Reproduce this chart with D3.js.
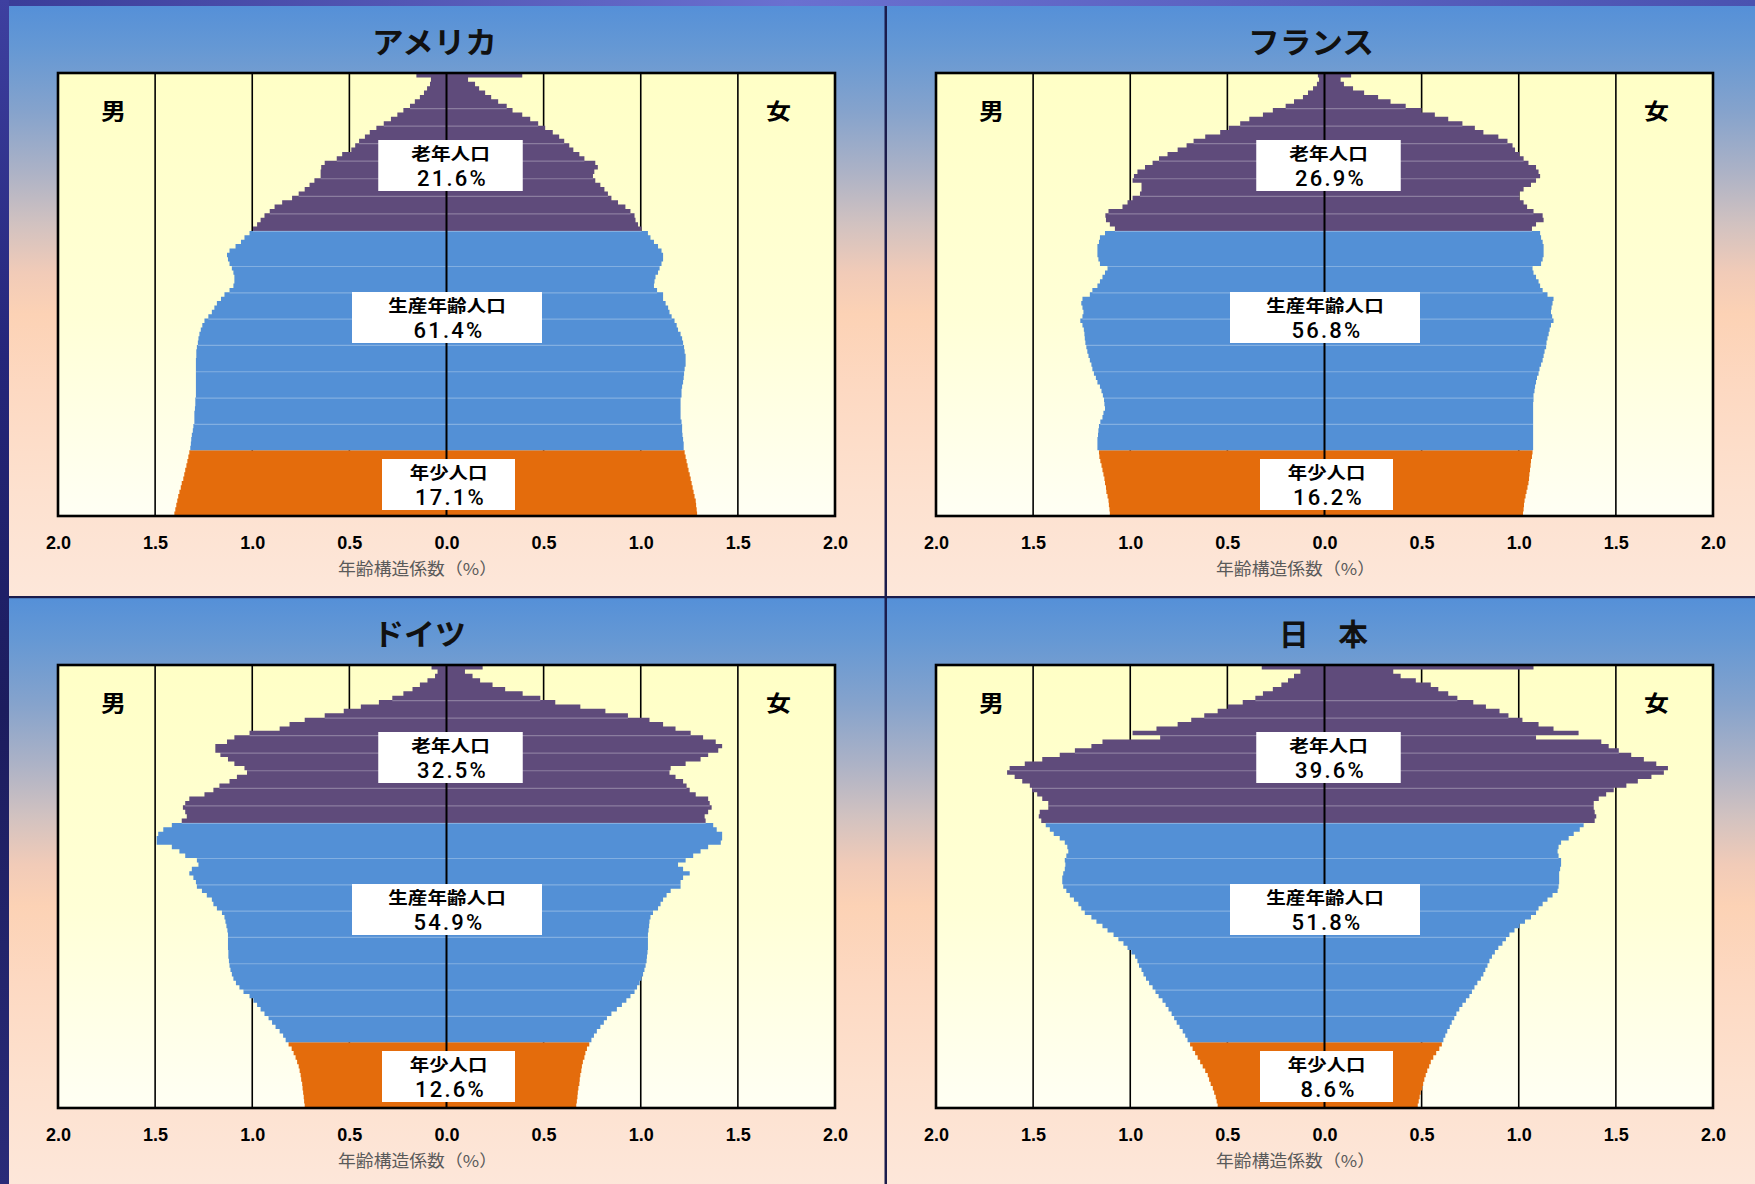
<!DOCTYPE html>
<html>
<head>
<meta charset="utf-8">
<script src="https://cdn.jsdelivr.net/npm/d3@7"></script>
<style>
  html, body { margin: 0; padding: 0; background: #23256e; }
  svg { display: block; }
</style>
</head>
<body>
<svg id="chart" width="1755" height="1184"></svg>
<script>
// ---------------------------------------------------------------
// Data: age-structure coefficients (%) by single year of age, 0 .. 100+
// ---------------------------------------------------------------
const ages = d3.range(0, 101);

const countryNames = ["アメリカ", "フランス", "ドイツ", "日　本"];
const groupNames = ["老年人口", "生産年齢人口", "年少人口"];

const usaMale = [
  1.401,1.396,1.391,1.386,1.381,1.375,1.368,1.363,1.355,1.350,1.345,1.339,1.334,1.329,1.324,
  1.319,1.316,1.314,1.311,1.306,1.303,1.298,1.298,1.298,1.295,1.293,1.293,1.290,1.290,1.290,
  1.290,1.290,1.290,1.290,1.290,1.290,1.288,1.288,1.285,1.280,1.277,1.272,1.265,1.257,1.246,
  1.226,1.208,1.195,1.182,1.161,
  1.143,1.117,1.097,1.092,1.092,1.097,1.105,1.117,1.125,1.130,1.117,1.086,1.058,1.040,1.014,
  0.996,0.975,0.957,0.937,0.910,0.885,0.846,0.795,0.761,0.730,0.705,0.680,0.648,0.648,0.645,
  0.627,0.565,0.537,0.490,0.470,0.450,0.420,0.395,0.361,0.323,0.286,0.253,0.222,0.188,0.163,
  0.137,0.116,0.100,0.085,0.080,0.155
];
const usaFemale = [
  1.290,1.288,1.285,1.283,1.277,1.272,1.267,1.262,1.257,1.252,1.246,1.241,1.236,1.231,1.226,
  1.221,1.221,1.218,1.215,1.213,1.213,1.210,1.205,1.205,1.205,1.205,1.205,1.210,1.210,1.213,
  1.218,1.221,1.223,1.226,1.231,1.231,1.231,1.226,1.223,1.218,1.213,1.205,1.192,1.185,1.174,
  1.159,1.148,1.141,1.128,1.115,
  1.115,1.084,1.068,1.071,1.076,1.089,1.097,1.107,1.115,1.115,1.107,1.089,1.068,1.050,1.037,
  1.004,0.986,0.973,0.968,0.947,0.921,0.883,0.849,0.831,0.813,0.792,0.766,0.754,0.761,0.779,
  0.766,0.710,0.684,0.653,0.632,0.606,0.580,0.547,0.508,0.472,0.431,0.390,0.340,0.310,0.266,
  0.230,0.199,0.168,0.147,0.111,0.390
];

const franceMale = [
  1.105,1.107,1.110,1.112,1.117,1.123,1.125,1.130,1.133,1.138,1.143,1.148,1.154,1.159,1.161,
  1.169,1.169,1.169,1.166,1.164,1.161,1.154,1.143,1.138,1.130,1.133,1.135,1.141,1.148,1.156,
  1.169,1.177,1.187,1.195,1.200,1.208,1.215,1.221,1.226,1.231,1.234,1.236,1.239,1.246,1.257,
  1.246,1.241,1.246,1.252,1.246,
  1.208,1.195,1.169,1.156,1.143,1.130,1.117,1.156,1.164,1.169,1.169,1.169,1.161,1.156,1.130,
  1.079,1.105,1.125,1.128,1.112,1.040,1.014,0.988,0.950,0.942,0.942,0.988,0.981,0.963,0.924,
  0.885,0.852,0.808,0.756,0.710,0.674,0.614,0.537,0.493,0.434,0.387,0.317,0.266,0.200,0.157,
  0.111,0.085,0.059,0.039,0.028,0.034
];
const franceFemale = [
  1.022,1.025,1.027,1.030,1.035,1.040,1.045,1.050,1.053,1.055,1.058,1.061,1.063,1.068,1.071,
  1.074,1.074,1.074,1.074,1.074,1.074,1.074,1.074,1.074,1.074,1.074,1.076,1.076,1.081,1.084,
  1.089,1.094,1.102,1.107,1.115,1.123,1.128,1.133,1.141,1.143,1.148,1.154,1.159,1.166,1.179,
  1.172,1.166,1.169,1.174,1.179,
  1.148,1.123,1.110,1.102,1.089,1.076,1.071,1.115,1.123,1.128,1.128,1.128,1.123,1.115,1.110,
  1.068,1.089,1.128,1.123,1.076,1.043,1.025,1.004,1.004,1.025,1.063,1.089,1.110,1.102,1.089,
  1.050,1.025,1.004,0.981,0.968,0.942,0.895,0.818,0.774,0.710,0.637,0.568,0.500,0.418,0.340,
  0.276,0.204,0.147,0.100,0.083,0.137
];

const germanyMale = [
  0.730,0.733,0.735,0.738,0.741,0.743,0.748,0.751,0.756,0.761,0.769,0.777,0.787,0.797,0.813,
  0.828,0.841,0.859,0.880,0.898,0.916,0.937,0.957,0.975,0.994,1.014,1.045,1.066,1.084,1.097,
  1.105,1.112,1.117,1.120,1.123,1.123,1.125,1.125,1.125,1.125,1.128,1.133,1.138,1.143,1.156,
  1.182,1.200,1.208,1.234,1.259,
  1.285,1.290,1.303,1.324,1.311,1.277,1.285,1.345,1.375,1.414,1.492,1.492,1.484,1.458,1.414,
  1.363,1.337,1.345,1.357,1.345,1.324,1.246,1.200,1.169,1.117,1.079,1.027,1.040,1.092,1.125,
  1.164,1.190,1.190,1.130,1.092,1.014,0.859,0.808,0.730,0.627,0.529,0.441,0.348,0.279,0.222,
  0.175,0.137,0.098,0.059,0.046,0.077
];
const germanyFemale = [
  0.668,0.671,0.674,0.676,0.679,0.684,0.686,0.689,0.694,0.697,0.702,0.710,0.715,0.723,0.735,
  0.746,0.759,0.774,0.792,0.810,0.826,0.849,0.877,0.903,0.926,0.947,0.968,0.981,0.994,1.004,
  1.012,1.019,1.025,1.030,1.032,1.035,1.037,1.037,1.037,1.037,1.040,1.043,1.045,1.050,1.063,
  1.089,1.102,1.115,1.133,1.154,
  1.205,1.205,1.218,1.252,1.218,1.192,1.231,1.270,1.308,1.347,1.412,1.419,1.419,1.391,1.373,
  1.334,1.329,1.347,1.365,1.355,1.347,1.283,1.252,1.236,1.218,1.179,1.148,1.154,1.231,1.308,
  1.347,1.399,1.419,1.386,1.321,1.257,1.179,1.115,1.045,0.934,0.818,0.689,0.560,0.483,0.392,
  0.302,0.237,0.173,0.134,0.095,0.186
];

const japanMale = [
  0.550,0.555,0.560,0.568,0.575,0.586,0.594,0.601,0.614,0.627,0.640,0.653,0.666,0.679,0.692,
  0.705,0.717,0.730,0.746,0.761,0.774,0.787,0.803,0.818,0.834,0.854,0.870,0.885,0.903,0.919,
  0.932,0.942,0.955,0.963,0.975,0.994,1.014,1.035,1.061,1.086,1.117,1.143,1.174,1.200,1.234,
  1.252,1.267,1.290,1.311,1.329,
  1.345,1.350,1.350,1.345,1.337,1.334,1.337,1.329,1.319,1.324,1.337,1.363,1.394,1.414,1.435,
  1.458,1.471,1.466,1.422,1.422,1.453,1.479,1.505,1.517,1.556,1.595,1.634,1.621,1.543,1.453,
  1.363,1.285,1.200,1.143,0.846,0.988,0.865,0.756,0.686,0.619,0.550,0.498,0.421,0.356,0.317,
  0.266,0.222,0.188,0.157,0.124,0.323
];
const japanFemale = [
  0.480,0.485,0.490,0.495,0.503,0.508,0.514,0.521,0.529,0.539,0.547,0.560,0.575,0.591,0.604,
  0.612,0.622,0.632,0.645,0.655,0.668,0.679,0.694,0.710,0.728,0.746,0.759,0.772,0.787,0.805,
  0.818,0.828,0.839,0.849,0.862,0.877,0.895,0.916,0.934,0.952,0.978,1.004,1.032,1.063,1.089,
  1.102,1.123,1.148,1.174,1.200,
  1.205,1.208,1.208,1.208,1.213,1.218,1.218,1.205,1.200,1.205,1.218,1.257,1.283,1.314,1.334,
  1.391,1.399,1.391,1.386,1.386,1.412,1.450,1.489,1.554,1.613,1.683,1.747,1.768,1.708,1.644,
  1.579,1.515,1.463,1.425,1.089,1.308,1.179,1.102,1.019,0.947,0.901,0.831,0.766,0.684,0.637,
  0.586,0.547,0.470,0.392,0.354,1.076
];

// Shares (%) of 老年 / 生産年齢 / 年少 per country
const usaShares = [21.6, 61.4, 17.1];
const franceShares = [26.9, 56.8, 16.2];
const germanyShares = [32.5, 54.9, 12.6];
const japanShares = [39.6, 51.8, 8.6];

// Axis ticks and grid
const tickValues = [-2, -1.5, -1, -0.5, 0, 0.5, 1, 1.5, 2];
const gridValues = [-1.5, -1, -0.5, 0.5, 1, 1.5];
// Age boundaries (top edge of the given age) where the bars show a light seam
const seamAges = [20, 26, 32, 38, 44, 50, 56, 64, 68, 72, 76, 80, 84, 88, 92];

const maleSeries = [usaMale, franceMale, germanyMale, japanMale];
const femaleSeries = [usaFemale, franceFemale, germanyFemale, japanFemale];
const shareSeries = [usaShares, franceShares, germanyShares, japanShares];

// ---------------------------------------------------------------
// Layout
// ---------------------------------------------------------------
const W = 1755, H = 1184;
const panelOrigin = [[9, 6], [887, 6], [9, 598], [887, 598]];
const panelW = 878, panelH = 592;
const plotX = 49, plotY = 67, PW = 777, PH = 443;
const titleLeft = [363, 361, 364, 392];
const titleWidth = [125, 126, 93, 89];
const boxTop = [67, 219, 386];
const boxW = [144.5, 190, 133];
const boxDx = [4, 0.5, 2];
const boxH = 51;
const line1Width = [78.5, 117.5, 77.5];

const colors = { old: "#5f4b7b", work: "#5390d6", young: "#e46c0c" };
const ageGroups = [
  { lo: 0, hi: 14, color: colors.young },
  { lo: 15, hi: 64, color: colors.work },
  { lo: 65, hi: 100, color: colors.old }
];

const FONT_JP = "'Noto Sans CJK JP', 'Noto Sans', sans-serif";
const FONT_NUM = "'Liberation Sans', Arial, sans-serif";
const FONT_SHARE = "Roboto, 'Liberation Sans', sans-serif";

const svg = d3.select("#chart");
const defs = svg.append("defs");

// page backdrop and frame bands
svg.append("rect").attr("width", W).attr("height", H).attr("fill", "#23256e");

const topBand = defs.append("linearGradient").attr("id", "topBand")
  .attr("x1", 0).attr("y1", 0).attr("x2", 1).attr("y2", 0);
[[0, "#3a3c98"], [0.45, "#6a70d0"], [1, "#4a52b0"]].forEach(([o, c]) =>
  topBand.append("stop").attr("offset", o).attr("stop-color", c));

const leftBand = defs.append("linearGradient").attr("id", "leftBand")
  .attr("x1", 0).attr("y1", 0).attr("x2", 0).attr("y2", 1);
[[0, "#3e40a0"], [0.3, "#25267a"], [0.6, "#1c1d5e"], [1, "#2a2b78"]].forEach(([o, c]) =>
  leftBand.append("stop").attr("offset", o).attr("stop-color", c));

const panelBg = defs.append("linearGradient").attr("id", "panelBg")
  .attr("x1", 0).attr("y1", 0).attr("x2", 0).attr("y2", 1);
[[0, "#5590d8"], [0.07, "#6598d4"], [0.18, "#86a3cc"], [0.28, "#acb2c6"],
 [0.37, "#d2c2c0"], [0.45, "#f1cbb8"], [0.52, "#fcd2b5"], [0.65, "#fdd9c2"],
 [0.82, "#fde1cf"], [1, "#fde7da"]].forEach(([o, c]) =>
  panelBg.append("stop").attr("offset", o).attr("stop-color", c));

const plotBg = defs.append("linearGradient").attr("id", "plotBg")
  .attr("x1", 0).attr("y1", 0).attr("x2", 0).attr("y2", 1);
[[0, "#ffffc6"], [0.55, "#ffffd6"], [1, "#fffff4"]].forEach(([o, c]) =>
  plotBg.append("stop").attr("offset", o).attr("stop-color", c));

svg.append("rect").attr("x", 0).attr("y", 0).attr("width", W).attr("height", 6).attr("fill", "url(#topBand)");
svg.append("rect").attr("x", 0).attr("y", 0).attr("width", 9).attr("height", H).attr("fill", "url(#leftBand)");

// scales shared by all four pyramids
const x = d3.scaleLinear().domain([-2, 2]).range([0, PW]);
const y = d3.scaleBand().domain(ages).range([PH, 0]).paddingInner(0).paddingOuter(0);

function sidePath(values, sign, lo, hi) {
  const p = d3.path();
  for (let a = lo; a <= hi; a++) {
    const x0 = x(0), x1 = x(sign * values[a]);
    p.rect(Math.min(x0, x1), y(a), Math.abs(x1 - x0), y.bandwidth());
  }
  return p.toString();
}

countryNames.forEach((name, i) => {
  const [ox, oy] = panelOrigin[i];
  const male = maleSeries[i], female = femaleSeries[i], shares = shareSeries[i];
  const g = svg.append("g").attr("transform", `translate(${ox},${oy})`);

  g.append("rect").attr("width", panelW).attr("height", panelH).attr("fill", "url(#panelBg)");

  // country title
  g.append("text")
    .attr("x", titleLeft[i]).attr("y", 47)
    .attr("textLength", titleWidth[i]).attr("lengthAdjust", "spacingAndGlyphs")
    .style("font-family", FONT_JP).style("font-size", "30px").style("font-weight", 700)
    .attr("fill", "#111")
    .text(name);

  const plot = g.append("g").attr("transform", `translate(${plotX},${plotY})`);
  plot.append("rect").attr("width", PW).attr("height", PH).attr("fill", "url(#plotBg)");

  // vertical grid lines
  plot.selectAll("line.grid").data(gridValues).join("line")
    .attr("class", "grid")
    .attr("x1", d => x(d)).attr("x2", d => x(d))
    .attr("y1", 0).attr("y2", PH)
    .attr("stroke", "#000").attr("stroke-width", 1.6);

  // pyramid bars, one path per side and age group
  ageGroups.forEach(grp => {
    plot.append("path").attr("d", sidePath(male, -1, grp.lo, grp.hi)).attr("fill", grp.color);
    plot.append("path").attr("d", sidePath(female, 1, grp.lo, grp.hi)).attr("fill", grp.color);
  });

  // faint seams across the bars
  plot.selectAll("line.seam").data(seamAges).join("line")
    .attr("class", "seam")
    .attr("x1", a => x(-Math.min(male[a], male[a + 1])))
    .attr("x2", a => x(Math.min(female[a], female[a + 1])))
    .attr("y1", a => y(a) + 0.5).attr("y2", a => y(a) + 0.5)
    .attr("stroke", "#ffffff").attr("stroke-opacity", 0.28).attr("stroke-width", 1.2);

  // centre axis line
  plot.append("line")
    .attr("x1", x(0)).attr("x2", x(0)).attr("y1", 0).attr("y2", PH)
    .attr("stroke", "#000").attr("stroke-width", 2);

  // share label boxes: group name on the first line, share on the second
  groupNames.forEach((label, k) => {
    const cx = x(0) + boxDx[k];
    const top = boxTop[k];
    plot.append("rect")
      .attr("x", cx - boxW[k] / 2).attr("y", top)
      .attr("width", boxW[k]).attr("height", boxH)
      .attr("fill", "#ffffff");
    plot.append("text")
      .attr("x", cx).attr("y", top + 19.5)
      .attr("text-anchor", "middle")
      .attr("textLength", line1Width[k]).attr("lengthAdjust", "spacingAndGlyphs")
      .style("font-family", FONT_JP).style("font-size", "16.5px").style("font-weight", 700)
      .attr("fill", "#000")
      .text(label);
    plot.append("text")
      .attr("x", cx + 2).attr("y", top + 45.5)
      .attr("text-anchor", "middle")
      .style("font-family", FONT_SHARE).style("font-size", "22px").style("font-weight", 500)
      .style("letter-spacing", "2.2px")
      .attr("fill", "#000")
      .text(d3.format(".1f")(shares[k]) + "%");
  });

  // sex labels
  [["男", 55.5], ["女", PW - 56.5]].forEach(([t, tx]) => {
    plot.append("text")
      .attr("x", tx).attr("y", 46)
      .attr("text-anchor", "middle")
      .attr("textLength", 25).attr("lengthAdjust", "spacingAndGlyphs")
      .style("font-family", FONT_JP).style("font-size", "22px").style("font-weight", 700)
      .attr("fill", "#000")
      .text(t);
  });

  // plot frame
  plot.append("rect").attr("width", PW).attr("height", PH)
    .attr("fill", "none").attr("stroke", "#000").attr("stroke-width", 2.6);

  // bottom axis labels
  const axis = d3.axisBottom(x)
    .tickValues(tickValues)
    .tickFormat(d => d3.format(".1f")(Math.abs(d)))
    .tickSize(0).tickPadding(0);
  const ag = plot.append("g").attr("transform", `translate(0,${PH})`).call(axis);
  ag.select(".domain").remove();
  ag.selectAll("text")
    .attr("y", 33).attr("dy", null)
    .style("font-family", FONT_NUM).style("font-size", "18px").style("font-weight", 700)
    .attr("fill", "#000");

  // axis title
  plot.append("text")
    .attr("x", 280).attr("y", PH + 59)
    .attr("textLength", 159).attr("lengthAdjust", "spacingAndGlyphs")
    .style("font-family", FONT_JP).style("font-size", "16.5px")
    .attr("fill", "#5a5a5a")
    .text("年齢構造係数（%）");
});

// panel dividers
svg.append("rect").attr("x", 884.5).attr("y", 6).attr("width", 2.5).attr("height", H).attr("fill", "#1b1c4c");
svg.append("rect").attr("x", 9).attr("y", 596).attr("width", W).attr("height", 2.2).attr("fill", "#1b1c4c");
</script>
</body>
</html>
